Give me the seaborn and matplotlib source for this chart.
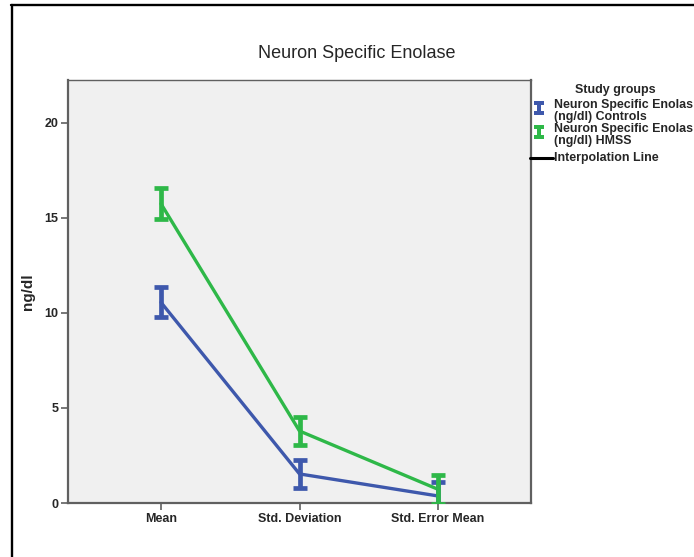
import numpy as np
import pandas as pd
import matplotlib
matplotlib.use("Agg")
import matplotlib.pyplot as plt
from matplotlib.lines import Line2D
from matplotlib.path import Path
import seaborn as sns

# ---- data ----
stats = ["Mean", "Std. Deviation", "Std. Error Mean"]
controls = [10.56, 1.53, 0.37]
controls_err = [0.79, 0.74, 0.75]
hmss = [15.75, 3.79, 0.72]
hmss_err = [0.82, 0.74, 0.76]
groups = ["Controls", "HMSS"]
legend_line1 = "Neuron Specific Enolas"
legend_line2 = ["(ng/dl) Controls", "(ng/dl) HMSS"]
yticks = [0, 5, 10, 15, 20]

BLUE = "#3E58AC"
GREEN = "#2EB848"

sns.set_style("white")
plt.rcParams["font.family"] = ["Liberation Sans", "DejaVu Sans"]

W, H = 694, 557
fig = plt.figure(figsize=(W / 100, H / 100), dpi=100)
fx = lambda px: px / W
fy = lambda py: 1 - py / H

ax = fig.add_axes([fx(68), fy(503), (531 - 68) / W, (503 - 80) / H])
ax.set_facecolor("#F0F0F0")

df = pd.DataFrame({
    "stat": stats * 2,
    "value": controls + hmss,
    "group": [groups[0]] * 3 + [groups[1]] * 3,
})

sns.pointplot(data=df, x="stat", y="value", hue="group", order=stats,
              hue_order=groups, palette=[BLUE, GREEN], errorbar=None,
              markers="none", dodge=False, linewidth=2.4, legend=False, ax=ax)
for ln in ax.lines:
    ln.set_zorder(2)

xs = np.arange(len(stats))
for vals, errs, col in [(controls, controls_err, BLUE), (hmss, hmss_err, GREEN)]:
    ax.errorbar(xs, vals, yerr=errs, fmt="none", ecolor=col, elinewidth=3.4,
                capsize=5, capthick=3.4, zorder=3)

ax.set_xlim(-0.671, 2.671)
ax.set_ylim(0, 22.26)
ax.set_yticks(yticks)
ax.set_yticklabels([str(t) for t in yticks])
ax.set_xlabel("")
ax.set_ylabel("ng/dl", fontsize=11, fontweight="bold", labelpad=7)
ax.tick_params(axis="both", which="major", length=5, width=1.2, color="#606060",
               labelsize=9, pad=2, left=True, bottom=True)
for lab in ax.get_xticklabels() + ax.get_yticklabels():
    lab.set_fontweight("bold")
for side, sp in ax.spines.items():
    sp.set_visible(True)
    sp.set_color("#606060")
    sp.set_linewidth(1.0 if side == "top" else 1.6)

# title
fig.text(fx(357), fy(53), "Neuron Specific Enolase", ha="center", va="center",
         fontsize=13)

# legend (drawn manually in SPSS style)
ibeam = Path([(-0.72, 1), (0.72, 1), (0.72, 0.5), (0.3, 0.5), (0.3, -0.5),
              (0.72, -0.5), (0.72, -1), (-0.72, -1), (-0.72, -0.5), (-0.3, -0.5),
              (-0.3, 0.5), (-0.72, 0.5), (-0.72, 1)], closed=True)
fig.text(fx(615), fy(90), "Study groups", ha="center", va="center",
         fontsize=9, fontweight="bold")
for ymark, yt, col, l2 in [(108, 105, BLUE, legend_line2[0]),
                           (132, 129, GREEN, legend_line2[1])]:
    fig.add_artist(Line2D([fx(538.5)], [fy(ymark)], marker=ibeam, markersize=9.5,
                          color=col, markeredgewidth=0, linestyle="none",
                          transform=fig.transFigure))
    fig.text(fx(554), fy(yt), legend_line1, ha="left", va="center", fontsize=8.9,
             fontweight="bold")
    fig.text(fx(554), fy(yt + 12), l2, ha="left", va="center", fontsize=8.9,
             fontweight="bold")
fig.add_artist(Line2D([fx(530), fx(553)], [fy(157.5), fy(157.5)], color="black",
                      linewidth=2.2, transform=fig.transFigure))
fig.text(fx(554), fy(157.5), "Interpolation Line", ha="left", va="center",
         fontsize=8.9, fontweight="bold")

# outer black frame (left and top visible)
fig.add_artist(Line2D([fx(12), fx(12)], [fy(5), -0.05], color="black",
                      linewidth=1.7, transform=fig.transFigure))
fig.add_artist(Line2D([fx(11), 1.05], [fy(5), fy(5)], color="black",
                      linewidth=1.7, transform=fig.transFigure))

fig.savefig("out.png", dpi=100)
